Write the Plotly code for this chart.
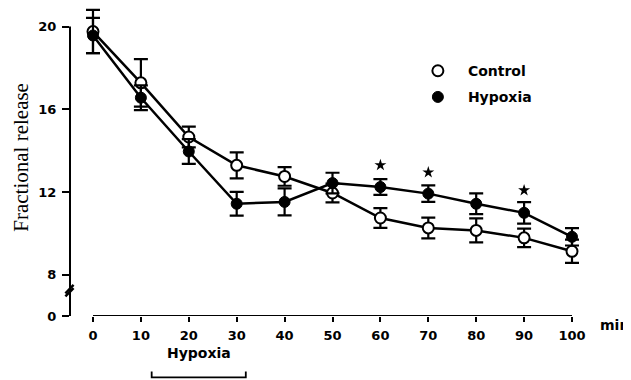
import plotly.graph_objects as go

# ---- data ----
minutes = [0, 10, 20, 30, 40, 50, 60, 70, 80, 90, 100]
control_mean = [19.76, 17.28, 14.66, 13.29, 12.75, 11.95, 10.74, 10.26, 10.14, 9.78, 9.13]
control_err = [1.05, 1.15, 0.50, 0.63, 0.45, 0.45, 0.48, 0.50, 0.58, 0.45, 0.56]
hypoxia_mean = [19.57, 16.56, 13.96, 11.43, 11.52, 12.43, 12.24, 11.92, 11.43, 10.99, 9.83]
hypoxia_err = [0.85, 0.60, 0.60, 0.57, 0.65, 0.50, 0.38, 0.40, 0.50, 0.52, 0.42]
sig_minutes = [60, 70, 90]
sig_level = [13.30, 12.95, 12.08]
ytick_vals = [6, 8, 12, 16, 20]
ytick_text = ["0", "8", "12", "16", "20"]
xtick_vals = [0, 10, 20, 30, 40, 50, 60, 70, 80, 90, 100]
hypoxia_period = [12.25, 31.9]

TICKFONT = dict(family="DejaVu Sans", size=13, color="black", weight="bold")
open_marker = dict(symbol="circle", size=11, color="white", line=dict(color="black", width=2))
filled_marker = dict(symbol="circle", size=11, color="black", line=dict(color="black", width=1))

fig = go.Figure()

fig.add_trace(go.Scatter(
    x=minutes, y=control_mean, name="Control", mode="lines+markers",
    line=dict(color="black", width=2.5), marker=open_marker,
    error_y=dict(type="data", array=control_err, visible=True, color="black", thickness=2.2, width=7),
    showlegend=False, cliponaxis=False,
))
fig.add_trace(go.Scatter(
    x=minutes, y=hypoxia_mean, name="Hypoxia", mode="lines+markers",
    line=dict(color="black", width=2.5), marker=filled_marker,
    error_y=dict(type="data", array=hypoxia_err, visible=True, color="black", thickness=2.2, width=7),
    showlegend=False, cliponaxis=False,
))
# legend entries (markers only, as in the reference key)
fig.add_trace(go.Scatter(x=[None], y=[None], name="Control", mode="markers",
                         marker=open_marker, legendgroup="c"))
fig.add_trace(go.Scatter(x=[None], y=[None], name="Hypoxia", mode="markers",
                         marker=filled_marker, legendgroup="h"))
fig.add_trace(go.Scatter(
    x=sig_minutes, y=sig_level, mode="markers", showlegend=False, hoverinfo="skip",
    marker=dict(symbol="star", size=9, color="black"), cliponaxis=False,
))

# axis lines (x axis only spans 0-100, y axis has a break)
fig.add_shape(type="line", xref="x", yref="y", x0=0, x1=100, y0=6, y1=6,
              line=dict(color="black", width=2))
fig.add_shape(type="line", xref="paper", yref="y", x0=0, x1=0, y0=6, y1=20,
              line=dict(color="black", width=2))
# axis break marks
fig.add_shape(type="line", xref="paper", yref="y", x0=-0.009, x1=0.007, y0=6.95, y1=7.35,
              line=dict(color="black", width=2.5))
fig.add_shape(type="line", xref="paper", yref="y", x0=-0.009, x1=0.007, y0=7.1, y1=7.5,
              line=dict(color="black", width=2.5))

# hypoxia bracket
fig.add_shape(type="path", xref="x", yref="paper",
              path=f"M {hypoxia_period[0]} -0.180 L {hypoxia_period[0]} -0.199 L {hypoxia_period[1]} -0.199 L {hypoxia_period[1]} -0.180",
              line=dict(color="black", width=1.8))
fig.add_annotation(x=sum(hypoxia_period) / 2, xref="x", y=-0.151, yref="paper",
                   xanchor="center", text="<b>Hypoxia</b>", showarrow=False,
                   font=dict(family="DejaVu Sans", size=14, color="black"))
fig.add_annotation(x=1.035, xref="paper", y=-0.063, yref="paper", xanchor="left",
                   text="<b>min</b>", showarrow=False,
                   font=dict(family="DejaVu Sans", size=14, color="black"))
fig.add_annotation(x=-0.096, xref="paper", y=0.514, yref="paper", xanchor="center",
                   yanchor="middle", text="Fractional release", textangle=-90, showarrow=False,
                   font=dict(family="Liberation Serif", size=21, color="black"))

fig.update_layout(
    width=623, height=372,
    margin=dict(l=62, r=51, t=0, b=63.5),
    paper_bgcolor="white", plot_bgcolor="white",
    showlegend=True,
    legend=dict(x=0.6625, y=0.847, xanchor="left", yanchor="top",
                font=dict(family="DejaVu Sans", size=14, color="black", weight="bold"),
                tracegroupgap=5, bgcolor="rgba(0,0,0,0)", itemwidth=50),
    xaxis=dict(range=[-4.80, 101.67], tickvals=xtick_vals, showgrid=False, zeroline=False,
               showline=False, ticks="outside", ticklen=5, tickwidth=2, tickcolor="black",
               tickfont=TICKFONT, ticklabelstandoff=2),
    yaxis=dict(range=[6, 20.90], tickvals=ytick_vals, ticktext=ytick_text, showgrid=False,
               zeroline=False, showline=False, ticks="outside", ticklen=7, tickwidth=2,
               tickcolor="black", tickfont=TICKFONT, ticklabelstandoff=3),
)

fig.write_html("out.html")
